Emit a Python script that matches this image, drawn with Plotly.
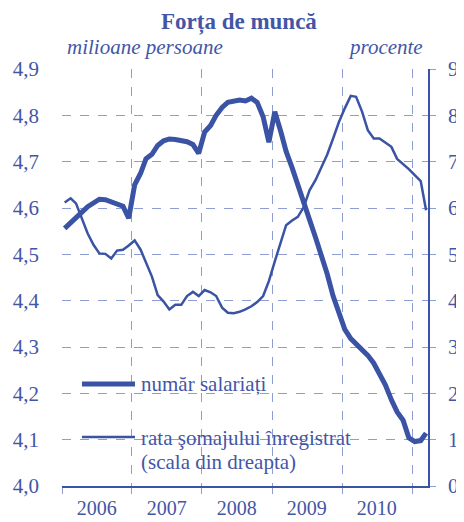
import pandas as pd
import plotly.graph_objects as go

# lunar, ian. 2006 - mar. 2011
luni = pd.date_range("2006-01-01", periods=63, freq="MS") + pd.Timedelta(days=14)

# numar salariati (milioane persoane)
salariati = [4.556, 4.567, 4.580, 4.591, 4.603, 4.612, 4.619, 4.618, 4.614, 4.608, 4.604, 4.578,
             4.650, 4.675, 4.706, 4.716, 4.735, 4.745, 4.749, 4.748, 4.746, 4.743, 4.737, 4.718,
             4.764, 4.778, 4.800, 4.817, 4.828, 4.831, 4.833, 4.831, 4.837, 4.828, 4.797, 4.742,
             4.808, 4.765, 4.722, 4.687, 4.652, 4.617, 4.575, 4.537, 4.498, 4.458, 4.410, 4.371,
             4.338, 4.318, 4.306, 4.296, 4.282, 4.265, 4.243, 4.218, 4.186, 4.160, 4.142, 4.104,
             4.096, 4.098, 4.114]

# rata somajului inregistrat (procente)
somaj = [6.12, 6.21, 6.10, 5.78, 5.45, 5.20, 5.02, 5.01, 4.91, 5.08, 5.10, 5.19,
         5.30, 5.10, 4.81, 4.52, 4.12, 3.98, 3.81, 3.91, 3.91, 4.10, 4.19, 4.10,
         4.23, 4.18, 4.10, 3.85, 3.74, 3.73, 3.76, 3.81, 3.88, 3.97, 4.10, 4.42,
         4.85, 5.25, 5.63, 5.73, 5.81, 6.02, 6.38, 6.60, 6.88, 7.15, 7.50, 7.85,
         8.15, 8.42, 8.40, 8.08, 7.68, 7.50, 7.50, 7.40, 7.32, 7.06, 6.95, 6.84,
         6.71, 6.58, 5.95]

ani = ["2006", "2007", "2008", "2009", "2010"]
ani_mijloc = [a + "-07-01" for a in ani]
ani_limite = [str(a) + "-01-01" for a in range(2006, 2012)]
y_stanga = [4.0, 4.1, 4.2, 4.3, 4.4, 4.5, 4.6, 4.7, 4.8, 4.9]
y_dreapta = list(range(0, 10))

albastru = "#3A53A4"
text_col = "#4356A6"
grila = "#8E9DD4"
serif = "Liberation Serif"

fig = go.Figure()
fig.add_trace(go.Scatter(x=luni, y=salariati, mode="lines", name="număr salariați",
                         line=dict(color=albastru, width=5), showlegend=False))
fig.add_trace(go.Scatter(x=luni, y=somaj, mode="lines", name="rata şomajului înregistrat",
                         line=dict(color=albastru, width=2.5), yaxis="y2", showlegend=False))

# pagina are o margine de 8px, deci figura e 456x514
fig.update_layout(
    width=456, height=514,
    margin=dict(l=54, r=36, t=61, b=36),
    paper_bgcolor="white", plot_bgcolor="white",
    separators=",.",
    font=dict(family=serif, color=text_col, size=21),
    xaxis=dict(type="date", range=["2006-01-01", "2011-03-25"], automargin=False,
               tickmode="array", tickvals=ani_mijloc, ticktext=ani, ticks="",
               showgrid=False, showline=True, linecolor=albastru, linewidth=1.5,
               ticklabelstandoff=3, tickfont=dict(size=20),
               minor=dict(tickmode="array", tickvals=ani_limite, ticks="outside", ticklen=6,
                          tickcolor=grila, showgrid=True, gridcolor=grila, griddash="dash",
                          gridwidth=1)),
    yaxis=dict(range=[4.0, 4.9], tickmode="array", tickvals=y_stanga, tickformat=".1f",
               automargin=False, showgrid=True, gridcolor=grila, griddash="dash", gridwidth=1,
               zeroline=False, showline=False, ticks="", ticklabelstandoff=22),
    yaxis2=dict(range=[0, 9], overlaying="y", side="right", tickmode="array", tickvals=y_dreapta,
                automargin=False, showgrid=False, zeroline=False, showline=True,
                linecolor=albastru, linewidth=1.5,
                ticks="outside", ticklen=6, tickcolor=grila, ticklabelstandoff=8),
)

# legenda desenata manual, cu fundal alb peste grila
fig.add_shape(type="rect", xref="paper", yref="paper", x0=0.008, x1=0.833, y0=0.034, y1=0.283,
              fillcolor="white", line=dict(width=0), layer="between")
fig.add_shape(type="line", xref="paper", yref="paper", x0=0.0546, x1=0.1995, y0=0.2446, y1=0.2446,
              line=dict(color=albastru, width=5))
fig.add_shape(type="line", xref="paper", yref="paper", x0=0.0546, x1=0.1995, y0=0.1175, y1=0.1175,
              line=dict(color=albastru, width=2.5))
fig.add_annotation(text="număr salariați", xref="paper", yref="paper", x=0.21, y=0.2446,
                   xanchor="left", yanchor="middle", showarrow=False)
fig.add_annotation(text="rata şomajului înregistrat", xref="paper", yref="paper",
                   x=0.21, y=0.1151, xanchor="left", yanchor="middle", showarrow=False)
fig.add_annotation(text="(scala din dreapta)", xref="paper", yref="paper",
                   x=0.21, y=0.0576, xanchor="left", yanchor="middle", showarrow=False)

fig.add_annotation(text="Forța de muncă", xref="paper", yref="paper", x=(239 - 62) / 366,
                   y=(486 - 22) / 417, xanchor="center", yanchor="middle", showarrow=False,
                   font=dict(size=23, weight="bold"))
fig.add_annotation(text="milioane persoane", xref="paper", yref="paper", x=0.008, y=(486 - 47) / 417,
                   xanchor="left", yanchor="middle", showarrow=False,
                   font=dict(size=21, style="italic"))
fig.add_annotation(text="procente", xref="paper", yref="paper", x=0.992, y=(486 - 47) / 417,
                   xanchor="right", yanchor="middle", showarrow=False,
                   font=dict(size=21, style="italic"))

fig.write_html("out.html")
